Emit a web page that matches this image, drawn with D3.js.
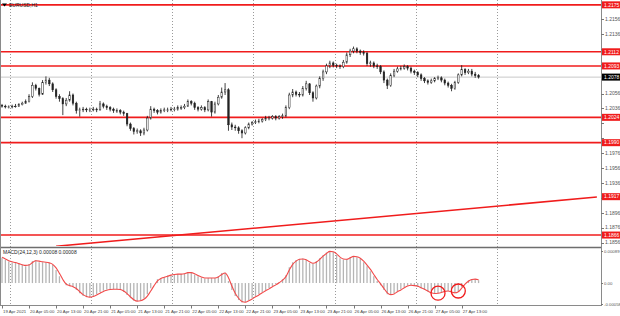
<!DOCTYPE html>
<html>
<head>
<meta charset="utf-8">
<script src="https://cdn.jsdelivr.net/npm/d3@7"></script>
<style>
body { margin: 0; background: #fff; }
svg { display: block; font-family: "Liberation Sans", Arial, sans-serif; }
</style>
</head>
<body>
<svg id="chart" width="620" height="316"></svg>
<script>
// EURUSD H1 candles
const firstOpen = 1.2040;
const closes = [
  1.2039, 1.2038, 1.2038, 1.2039, 1.2039, 1.2041, 1.2043, 1.2045, 1.2052, 1.2067,
  1.2063, 1.2055, 1.2071, 1.2074, 1.2069, 1.2061, 1.2052, 1.2049, 1.2042, 1.2047,
  1.2054, 1.2043, 1.2033, 1.2034, 1.2035, 1.2034, 1.2034, 1.2035, 1.2034, 1.2042,
  1.2039, 1.2037, 1.2035, 1.2033, 1.2033, 1.2031, 1.2029, 1.2015, 1.2009, 1.2005,
  1.2006, 1.2003, 1.2007, 1.2023, 1.2035, 1.2033, 1.2031, 1.2033, 1.2034, 1.2034,
  1.2035, 1.2035, 1.2037, 1.2037, 1.2039, 1.2045, 1.2043, 1.2037, 1.2035, 1.2037,
  1.2034, 1.2045, 1.2031, 1.2042, 1.2051, 1.2058, 1.2061, 1.2014, 1.2011, 1.2010,
  1.2006, 1.2003, 1.2010, 1.2015, 1.2017, 1.2018, 1.2019, 1.2021, 1.2023, 1.2023,
  1.2025, 1.2023, 1.2025, 1.2026, 1.2037, 1.2054, 1.2058, 1.2055, 1.2054, 1.2063,
  1.2069, 1.2057, 1.2050, 1.2066, 1.2076, 1.2085, 1.2093, 1.2097, 1.2094, 1.2093,
  1.2092, 1.2098, 1.2108, 1.2113, 1.2116, 1.2113, 1.2111, 1.2110, 1.2096, 1.2097,
  1.2093, 1.2092, 1.2085, 1.2074, 1.2067, 1.2080, 1.2086, 1.2089, 1.2090, 1.2092,
  1.2090, 1.2086, 1.2084, 1.2081, 1.2076, 1.2073, 1.2071, 1.2073, 1.2076, 1.2077,
  1.2074, 1.2070, 1.2067, 1.2063, 1.2071, 1.2081, 1.2088, 1.2084, 1.2086, 1.2082,
  1.2080, 1.2078
];
const highs = [
  1.2042, 1.2041, 1.2040, 1.2041, 1.2042, 1.2043, 1.2045, 1.2048, 1.2055, 1.2071,
  1.2069, 1.2064, 1.2074, 1.2079, 1.2077, 1.2071, 1.2063, 1.2055, 1.2051, 1.2050,
  1.2059, 1.2056, 1.2045, 1.2037, 1.2038, 1.2037, 1.2037, 1.2038, 1.2037, 1.2046,
  1.2044, 1.2041, 1.2039, 1.2037, 1.2036, 1.2035, 1.2033, 1.2030, 1.2017, 1.2011,
  1.2009, 1.2008, 1.2010, 1.2026, 1.2039, 1.2037, 1.2035, 1.2036, 1.2037, 1.2037,
  1.2038, 1.2038, 1.2040, 1.2040, 1.2042, 1.2048, 1.2047, 1.2045, 1.2039, 1.2040,
  1.2039, 1.2048, 1.2046, 1.2045, 1.2054, 1.2064, 1.2070, 1.2063, 1.2017, 1.2014,
  1.2012, 1.2008, 1.2012, 1.2017, 1.2019, 1.2021, 1.2022, 1.2023, 1.2026, 1.2026,
  1.2027, 1.2027, 1.2027, 1.2029, 1.2040, 1.2057, 1.2062, 1.2060, 1.2058, 1.2066,
  1.2073, 1.2070, 1.2059, 1.2068, 1.2079, 1.2088, 1.2096, 1.2100, 1.2099, 1.2096,
  1.2095, 1.2101, 1.2111, 1.2116, 1.2119, 1.2118, 1.2115, 1.2114, 1.2112, 1.2100,
  1.2099, 1.2096, 1.2094, 1.2087, 1.2076, 1.2083, 1.2089, 1.2092, 1.2093, 1.2095,
  1.2094, 1.2092, 1.2088, 1.2086, 1.2083, 1.2078, 1.2075, 1.2076, 1.2078, 1.2080,
  1.2079, 1.2076, 1.2072, 1.2069, 1.2073, 1.2083, 1.2094, 1.2090, 1.2089, 1.2089,
  1.2085, 1.2082
];
const lows = [
  1.2037, 1.2036, 1.2036, 1.2036, 1.2037, 1.2038, 1.2040, 1.2042, 1.2044, 1.2050,
  1.2060, 1.2052, 1.2054, 1.2068, 1.2066, 1.2058, 1.2049, 1.2045, 1.2027, 1.2039,
  1.2045, 1.2040, 1.2029, 1.2025, 1.2031, 1.2031, 1.2031, 1.2032, 1.2031, 1.2033,
  1.2036, 1.2034, 1.2032, 1.2030, 1.2030, 1.2028, 1.2026, 1.2012, 1.2006, 1.2001,
  1.2002, 1.1999, 1.2000, 1.2005, 1.2021, 1.2030, 1.2028, 1.2029, 1.2031, 1.2031,
  1.2032, 1.2032, 1.2033, 1.2034, 1.2035, 1.2038, 1.2040, 1.2034, 1.2032, 1.2033,
  1.2031, 1.2032, 1.2025, 1.2029, 1.2040, 1.2049, 1.2054, 1.2006, 1.2007, 1.2006,
  1.2002, 1.1996, 1.2001, 1.2008, 1.2013, 1.2015, 1.2016, 1.2017, 1.2019, 1.2020,
  1.2021, 1.2020, 1.2021, 1.2022, 1.2024, 1.2035, 1.2051, 1.2052, 1.2051, 1.2052,
  1.2060, 1.2054, 1.2045, 1.2048, 1.2063, 1.2073, 1.2082, 1.2090, 1.2091, 1.2090,
  1.2089, 1.2090, 1.2096, 1.2105, 1.2110, 1.2110, 1.2108, 1.2107, 1.2093, 1.2092,
  1.2090, 1.2089, 1.2082, 1.2070, 1.2062, 1.2065, 1.2078, 1.2084, 1.2087, 1.2088,
  1.2087, 1.2083, 1.2081, 1.2078, 1.2073, 1.2070, 1.2068, 1.2069, 1.2071, 1.2074,
  1.2071, 1.2067, 1.2064, 1.2059, 1.2061, 1.2069, 1.2079, 1.2081, 1.2082, 1.2079,
  1.2077, 1.2076
];

// MACD histogram and signal, in units of 0.00001
const macd = [
  70, 64, 60, 57, 56, 53, 50, 47, 53, 61,
  64, 58, 58, 57, 56, 50, 36, 19, 0, -6,
  -8, -11, -19, -28, -36, -39, -39, -36, -31, -25,
  -21, -18, -17, -17, -17, -19, -25, -33, -42, -49,
  -50, -49, -43, -31, -14, 0, 11, 14, 17, 21,
  22, 25, 25, 25, 26, 31, 29, 24, 19, 15,
  13, 14, 14, 14, 19, 28, 29, 6, -19, -36,
  -47, -54, -53, -47, -42, -36, -31, -25, -19, -14,
  -8, -3, 3, 11, 22, 44, 58, 64, 67, 68,
  64, 56, 54, 61, 69, 78, 85, 89, 86, 78,
  69, 65, 67, 71, 75, 72, 67, 58, 47, 33,
  19, 6, -6, -19, -31, -33, -28, -22, -17, -11,
  -7, -6, -7, -10, -14, -19, -24, -28, -29, -28,
  -25, -22, -22, -26, -28, -22, -11, 0, 8, 11,
  11, 8
];
const signal = [
  72, 67, 62, 59, 57, 54, 51, 49, 50, 57,
  62, 61, 59, 58, 56, 52, 42, 27, 10, -3,
  -7, -10, -15, -24, -32, -37, -39, -37, -33, -28,
  -23, -20, -18, -17, -17, -18, -22, -29, -38, -46,
  -50, -49, -45, -36, -22, -7, 6, 13, 16, 19,
  22, 24, 25, 25, 26, 29, 29, 26, 21, 17,
  14, 14, 14, 14, 17, 24, 28, 15, -8, -28,
  -42, -51, -53, -49, -44, -38, -33, -27, -21, -16,
  -10, -5, 1, 8, 18, 36, 52, 61, 66, 67,
  65, 59, 55, 58, 66, 75, 82, 88, 87, 81,
  72, 67, 66, 70, 74, 73, 69, 61, 50, 38,
  24, 10, -2, -15, -27, -32, -30, -24, -19, -13,
  -8, -6, -7, -9, -13, -17, -22, -27, -29, -28,
  -26, -23, -22, -25, -27, -24, -14, -3, 5, 10,
  11, 9
];

const levels = [1.2175, 1.2112, 1.2093, 1.2024, 1.1990, 1.1866];
const levelLabels = ["1.2175", "1.2112", "1.2093", "1.2024", "1.1990", "1.1866"];
const trend = [{ bar: 16, price: 1.1851 }, { bar: 176, price: 1.1917 }];
const trendLabel = "1.1917";
const bidLabel = "1.2078";
const priceTicks = [1.2156, 1.2136, 1.2116, 1.2096, 1.2076, 1.2056, 1.2036, 1.2016,
  1.1996, 1.1976, 1.1956, 1.1936, 1.1916, 1.1896, 1.1876, 1.1856];
const timeLabels = ["19 Apr 2021", "20 Apr 05:00", "20 Apr 13:00", "20 Apr 21:00",
  "21 Apr 05:00", "21 Apr 13:00", "21 Apr 21:00", "22 Apr 05:00", "22 Apr 13:00",
  "22 Apr 21:00", "23 Apr 05:00", "23 Apr 13:00", "23 Apr 21:00", "26 Apr 05:00",
  "26 Apr 13:00", "26 Apr 21:00", "27 Apr 05:00", "27 Apr 13:00"];
const timeLabelStep = 8;
const gridBars = [2.4, 26.4, 50.4, 74.4, 98.4, 122.4, 146.4];
const circledBars = [129, 135];
const indTicks = [0.00089, 0, -0.00058];
const indTickLabels = ["0.00089", "0.00", "-0.00058"];
const title = "EURUSD,H1";
const indTitle = "MACD(24,12,3) 0.00008 0.00008";

const svg = d3.select("#chart");
const axisX = 601, mainBottom = 246, sepY = 247.5, indBottom = 305.5;
const RED = "#f01c1c";

const x = d3.scaleLinear().domain([0, closes.length - 1]).range([2, 2 + 3.38 * (closes.length - 1)]);
const y = d3.scaleLinear().domain([1.1856, 1.2156]).range([242.5, 19]);
const yi = d3.scaleLinear().domain([-0.00058, 0.00089]).range([304, 251]);

svg.append("clipPath").attr("id", "main-clip")
  .append("rect").attr("x", 0).attr("y", 0).attr("width", axisX).attr("height", mainBottom);

// vertical dotted grid through both windows
svg.append("g").selectAll("line").data(gridBars).join("line")
  .attr("x1", d => Math.round(x(d)) + 0.5).attr("x2", d => Math.round(x(d)) + 0.5)
  .attr("y1", 0).attr("y2", indBottom)
  .attr("stroke", "#9a9a9a").attr("stroke-width", 1).attr("stroke-dasharray", "1,2");

const main = svg.append("g").attr("clip-path", "url(#main-clip)");

// bid line
const lastClose = closes[closes.length - 1];
main.append("line")
  .attr("x1", 0).attr("x2", axisX)
  .attr("y1", y(lastClose)).attr("y2", y(lastClose))
  .attr("stroke", "#c8c8c8").attr("stroke-width", 1);

// horizontal support / resistance levels
main.append("g").selectAll("line").data(levels).join("line")
  .attr("x1", 0).attr("x2", axisX)
  .attr("y1", d => y(d)).attr("y2", d => y(d))
  .attr("stroke", RED).attr("stroke-width", 1.6);

// trend line
main.append("line")
  .attr("x1", x(trend[0].bar)).attr("y1", y(trend[0].price))
  .attr("x2", x(trend[1].bar)).attr("y2", y(trend[1].price))
  .attr("stroke", RED).attr("stroke-width", 1.6);

// candles
const candles = closes.map((c, i) => ({
  i, open: i === 0 ? firstOpen : closes[i - 1], close: c, high: highs[i], low: lows[i]
}));
const cg = main.append("g");
cg.selectAll("line").data(candles).join("line")
  .attr("x1", d => x(d.i)).attr("x2", d => x(d.i))
  .attr("y1", d => y(d.high)).attr("y2", d => y(d.low))
  .attr("stroke", "#111").attr("stroke-width", 0.8);
cg.selectAll("rect").data(candles).join("rect")
  .attr("x", d => x(d.i) - 0.8).attr("width", 1.6)
  .attr("y", d => y(Math.max(d.open, d.close)))
  .attr("height", d => Math.max(0.6, Math.abs(y(d.open) - y(d.close))))
  .attr("fill", d => d.close >= d.open ? "#fff" : "#222")
  .attr("stroke", "#222").attr("stroke-width", 0.5);

// title
svg.append("path").attr("d", "M2,3.5 L7,3.5 L4.5,6.5 Z").attr("fill", "#000");
svg.append("text").attr("x", 9).attr("y", 7).attr("font-size", 5).attr("fill", "#222").text(title);

// window separator
svg.append("line").attr("x1", 0).attr("x2", axisX).attr("y1", sepY).attr("y2", sepY)
  .attr("stroke", "#6e6e6e").attr("stroke-width", 1.5);

// MACD histogram
svg.append("g").selectAll("line").data(macd).join("line")
  .attr("x1", (d, i) => x(i)).attr("x2", (d, i) => x(i))
  .attr("y1", yi(0)).attr("y2", d => yi(d / 100000))
  .attr("stroke", "#b5b5b5").attr("stroke-width", 1.3);

// signal line
svg.append("path").datum(signal)
  .attr("d", d3.line().x((d, i) => x(i)).y(d => yi(d / 100000)).curve(d3.curveMonotoneX))
  .attr("fill", "none").attr("stroke", "#f24a4a").attr("stroke-width", 1.1);

// annotation circles
svg.append("g").selectAll("circle").data(circledBars).join("circle")
  .attr("cx", d => x(d)).attr("cy", d => yi(macd[d] / 100000)).attr("r", 7)
  .attr("fill", "none").attr("stroke", RED).attr("stroke-width", 1.3);

svg.append("text").attr("x", 3).attr("y", 253.5).attr("font-size", 5).attr("fill", "#222").text(indTitle);

// frame lines
svg.append("line").attr("x1", axisX + 0.5).attr("x2", axisX + 0.5).attr("y1", 0).attr("y2", indBottom)
  .attr("stroke", "#8a8a8a").attr("stroke-width", 1);
svg.append("line").attr("x1", 0.5).attr("x2", 0.5).attr("y1", 0).attr("y2", indBottom)
  .attr("stroke", "#8a8a8a").attr("stroke-width", 1);
svg.append("line").attr("x1", 0).attr("x2", axisX + 1).attr("y1", indBottom).attr("y2", indBottom)
  .attr("stroke", "#8a8a8a").attr("stroke-width", 1);

// axis tags (levels, trend end, bid)
const trendEnd = trend[0].price + (trend[1].price - trend[0].price) * (x.invert(axisX) - trend[0].bar) / (trend[1].bar - trend[0].bar);
const tags = levels.map((p, k) => ({ price: p, label: levelLabels[k], fill: RED }))
  .concat([{ price: trendEnd, label: trendLabel, fill: RED }, { price: lastClose, label: bidLabel, fill: "#000" }]);

// price axis, hiding the plain labels that sit under a tag
const visibleTicks = priceTicks.filter(p => tags.every(t => Math.abs(y(p) - y(t.price)) > 6));
const pa = svg.append("g");
pa.selectAll("line").data(priceTicks).join("line")
  .attr("x1", axisX).attr("x2", axisX + 3)
  .attr("y1", d => Math.round(y(d)) + 0.5).attr("y2", d => Math.round(y(d)) + 0.5)
  .attr("stroke", "#777");
pa.selectAll("text").data(visibleTicks).join("text")
  .attr("x", axisX + 4).attr("y", d => y(d) + 1.8)
  .attr("font-size", 5).attr("fill", "#555").text(d => d.toFixed(4));

const tg = svg.append("g").selectAll("g").data(tags).join("g");
tg.append("rect").attr("x", axisX + 1).attr("y", d => y(d.price) - 3.5).attr("width", 18).attr("height", 7).attr("fill", d => d.fill);
tg.append("text").attr("x", axisX + 3).attr("y", d => y(d.price) + 1.8).attr("font-size", 5).attr("fill", "#fff").text(d => d.label);

// indicator axis
const ia = svg.append("g");
ia.selectAll("text").data(indTicks).join("text")
  .attr("x", axisX + 3).attr("y", d => yi(d) + 1.8)
  .attr("font-size", 4.3).attr("fill", "#555").text((d, k) => indTickLabels[k]);
ia.selectAll("line").data(indTicks).join("line")
  .attr("x1", axisX).attr("x2", axisX + 2)
  .attr("y1", d => Math.round(yi(d)) + 0.5).attr("y2", d => Math.round(yi(d)) + 0.5)
  .attr("stroke", "#777");

// time axis
const ta = svg.append("g");
ta.selectAll("line").data(timeLabels).join("line")
  .attr("x1", (d, k) => Math.round(x(k * timeLabelStep)) + 0.5).attr("x2", (d, k) => Math.round(x(k * timeLabelStep)) + 0.5)
  .attr("y1", indBottom).attr("y2", indBottom + 3)
  .attr("stroke", "#777");
ta.selectAll("text").data(timeLabels).join("text")
  .attr("x", (d, k) => x(k * timeLabelStep) + 1).attr("y", 312.5)
  .attr("font-size", 4.3).attr("fill", "#444").text(d => d);
</script>
</body>
</html>
